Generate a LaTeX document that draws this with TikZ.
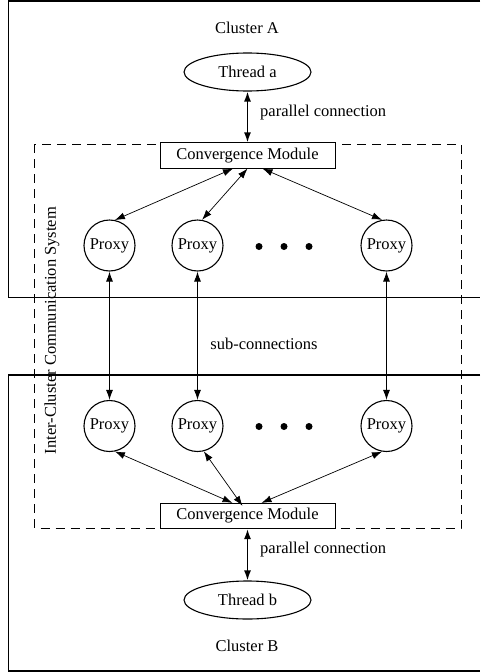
\documentclass[tikz,border=0pt]{standalone}
\usepackage{fontspec}
\setmainfont{Liberation Serif}
\usetikzlibrary{arrows.meta,shapes.geometric}
\begin{document}
\begin{tikzpicture}[x=1pt,y=-1pt,
  every node/.style={font=\fontsize{16.5}{20}\selectfont},
  cluster/.style={line width=1.1pt},
  dashbox/.style={line width=1pt,dash pattern=on 9pt off 6pt},
  thread/.style={draw,ellipse,line width=1.1pt,minimum width=127pt,minimum height=38pt,inner sep=0pt},
  module/.style={draw,fill=white,line width=0.7pt,minimum width=175pt,minimum height=25.5pt,inner sep=0pt},
  proxy/.style={draw,circle,line width=1.1pt,minimum size=51pt,inner sep=0pt},
  dot/.style={circle,fill=black,minimum size=7pt,inner sep=0pt},
  thin/.style={line width=0.7pt,{Latex[length=10pt,width=7pt]}-{Latex[length=10pt,width=7pt]}},
  thick/.style={line width=1.4pt,{Latex[length=10pt,width=7pt]}-{Latex[length=10pt,width=7pt]}},
  sub/.style={line width=1pt,{Latex[length=10pt,width=7pt]}-{Latex[length=10pt,width=7pt]}},
  lbl/.style={inner sep=0pt}]
\useasboundingbox (0,0) rectangle (480,672);
% cluster boxes
\draw[cluster] (480,1) -- (8.5,1) -- (8.5,297.5) -- (480,297.5);
\draw[cluster] (480,375) -- (8.5,375) -- (8.5,671) -- (480,671);
% dashed system box
\draw[dashbox] (34.5,144) rectangle (461,528);
% nodes
\node[lbl] (clA) at (247,28) {Cluster A};
\node[thread] (thA) at (247.5,72) {Thread a};
\node[module] (cmA) at (247.5,155.5) {Convergence Module};
\node[proxy] (pA1) at (109.5,245.5) {Proxy};
\node[proxy] (pA2) at (197.5,245.5) {Proxy};
\node[proxy] (pA3) at (386.5,245.5) {Proxy};
\node[dot] (dA1) at (259,246.5) {};
\node[dot] (dA2) at (284,246.5) {};
\node[dot] (dA3) at (309,246.5) {};
\node[proxy] (pB1) at (109.5,426) {Proxy};
\node[proxy] (pB2) at (197.5,426) {Proxy};
\node[proxy] (pB3) at (386.5,426) {Proxy};
\node[dot] (dB1) at (259,426.5) {};
\node[dot] (dB2) at (284,426.5) {};
\node[dot] (dB3) at (309,426.5) {};
\node[module] (cmB) at (247.5,516) {Convergence Module};
\node[thread] (thB) at (247.5,600) {Thread b};
\node[lbl] (clB) at (247,646) {Cluster B};
% labels
\node[lbl,anchor=west] (plA) at (260,113) {parallel connection};
\node[lbl,anchor=west] (plB) at (260,550) {parallel connection};
\node[lbl] (subc) at (264,344) {sub-connections};
\node[lbl,rotate=90] (ics) at (52,330.5) {Inter-Cluster Communication System};
% connectors
\draw[thick] (thA) -- (cmA);
\draw[thick] (cmB) -- (thB);
\draw[thin] ([xshift=-14.5pt]cmA.south) -- (pA1.78);
\draw[thin] (cmA.south) -- (pA2.80);
\draw[thin] ([xshift=15pt]cmA.south) -- (pA3.100);
\draw[thin] ([xshift=-15pt]cmB.north) -- (pB1.-78);
\draw[thin] ([xshift=-5pt,yshift=-3pt]cmB.north) -- (pB2.-76);
\draw[thin] ([xshift=14pt]cmB.north) -- (pB3.-100);
\draw[sub] (pA1) -- (pB1);
\draw[sub] (pA2) -- (pB2);
\draw[sub] (pA3) -- (pB3);
\end{tikzpicture}
\end{document}
